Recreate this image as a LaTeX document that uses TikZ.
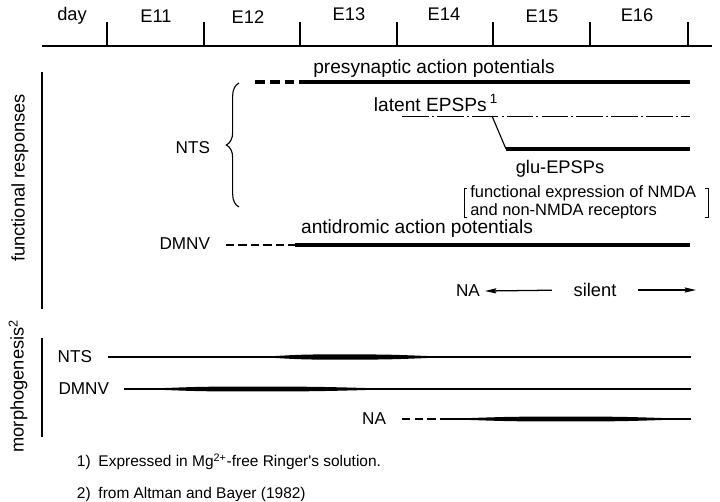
\documentclass[tikz,border=0pt]{standalone}
\usepackage{fontspec}
\setmainfont{Liberation Sans}
\usetikzlibrary{positioning,arrows.meta,decorations.pathreplacing}

% spindle for the morphogenesis bars: start, peak, end, y, half width
\newcommand{\fuse}[5]{%
  \fill (#1,#4) .. controls ({#1+0.55*(#2-#1)},{#4-#5}) .. (#2,{#4-#5})
        .. controls ({#2+0.45*(#3-#2)},{#4-#5}) .. (#3,#4)
        .. controls ({#2+0.45*(#3-#2)},{#4+#5}) .. (#2,{#4+#5})
        .. controls ({#1+0.55*(#2-#1)},{#4+#5}) .. (#1,#4) -- cycle;}

\begin{document}
\begin{tikzpicture}[
    x=0.025cm, y=-0.025cm,
    font=\fontsize{13}{15}\selectfont,
    >={Stealth[length=8pt,width=3.6pt,inset=1pt]},
    axisline/.style={line width=1.8pt},
    daytick/.style={line width=1.1pt},
    sidebar/.style={line width=1.4pt},
    thickline/.style={line width=2.2pt},
    thickdash/.style={line width=2.2pt, dash pattern=on 7pt off 3.5pt},
    latentline/.style={line width=0.7pt, dash pattern=on 19pt off 2.2pt on 1.4pt off 2.2pt},
    morphline/.style={line width=1pt},
    label text/.style={font=\fontsize{12.2}{14}\selectfont},
    phase text/.style={font=\fontsize{13.6}{16}\selectfont},
    smalltext/.style={font=\fontsize{11.7}{13}\selectfont, align=left, inner sep=0pt},
    note text/.style={font=\fontsize{11}{13}\selectfont, anchor=west}
]
\useasboundingbox (0,0) rectangle (720,501);

% time axis
\coordinate (ax-a) at (42,46);
\coordinate (ax-b) at (712,46);
\draw[axisline] (ax-a) -- (ax-b);
\foreach \x in {107,204,300,397,493,590,688}
    \draw[daytick] (\x,46) -- (\x,22);
\foreach \lab/\x/\y in {day/72/16, E11/156/16, E12/248/17, E13/349/14, E14/444/14, E15/542/16, E16/637/15}
    \node (day-\lab) at (\x,\y) {\lab};

% side labels
\draw[sidebar] (42,72) -- (42,309);
\draw[sidebar] (42,338) -- (42,437);
\node[rotate=90] (functional) at (20,178) {functional responses};
\node[rotate=90] (morpho) at (18,386) {morphogenesis\textsuperscript{2}};

% NTS, functional responses
\node[label text, anchor=east] (nts) at (215,148) {NTS};
\draw[line width=0.8pt, decorate, decoration={brace, amplitude=9pt}] (239,207) -- (239,83);

\node[phase text] (presyn) at (434,69) {presynaptic action potentials};
\coordinate (pre-a) at (255,82);
\coordinate (pre-b) at (302,82);
\coordinate (pre-c) at (690,82);
\draw[thickdash] (pre-a) -- (pre-b);
\draw[thickline] (pre-b) -- (pre-c);

\node[phase text] (latent) at (436,103) {latent EPSPs\,\textsuperscript{1}};
\coordinate (lat-a) at (402,116);
\coordinate (lat-b) at (492,116);
\coordinate (lat-c) at (690,116);
\draw[latentline] (lat-a) -- (lat-c);

\coordinate (glu-a) at (506,149);
\coordinate (glu-b) at (690,149);
\draw[line width=0.8pt] (lat-b) -- (glu-a);
\draw[thickline] (glu-a) -- (glu-b);
\node (glu) at (560,169) {glu-EPSPs};
\node[smalltext, anchor=north west] (nmda) at (470,185) {functional expression of NMDA\\and non-NMDA receptors};
\draw[line width=0.6pt] (467,188) -- (464,188) -- (464,217) -- (467,217);
\draw[line width=0.6pt] (705,188) -- (708,188) -- (708,217) -- (705,217);

% DMNV, functional responses
\node[label text, anchor=east] (dmnv) at (215,244) {DMNV};
\node[phase text] (antidrom) at (417,229) {antidromic action potentials};
\coordinate (dm-a) at (226,245);
\coordinate (dm-b) at (295,245);
\coordinate (dm-c) at (690,245);
\draw[line width=2pt, dash pattern=on 6pt off 2.8pt] (dm-a) -- (dm-b);
\draw[thickline] (dm-b) -- (dm-c);

% NA silent
\node[label text] (na) at (468,291) {NA};
\node (silent) at (595,290) {silent};
\coordinate (sil-end) at (696,290);
\draw[->, line width=0.9pt, shorten <=12pt] (silent.west) -- (na.east);
\draw[->, line width=0.9pt, shorten <=12pt] (silent.east) -- (sil-end);

% morphogenesis
\node[label text, anchor=east] (m-nts) at (97,357) {NTS};
\coordinate (mn-a) at (108,357);
\coordinate (mn-b) at (691,357);
\draw[morphline] (mn-a) -- (mn-b);
\fuse{258}{340}{450}{357}{2.6}

\node[label text, anchor=east] (m-dmnv) at (114,389) {DMNV};
\coordinate (md-a) at (124,389);
\coordinate (md-b) at (691,389);
\draw[morphline] (md-a) -- (md-b);
\fuse{140}{250}{400}{389}{2.4}

\node[label text, anchor=east] (m-na) at (391,419) {NA};
\coordinate (ma-a) at (402,419);
\coordinate (ma-b) at (443,419);
\coordinate (ma-c) at (691,419);
\draw[line width=0.8pt, dash pattern=on 6pt off 3pt] (ma-a) -- (ma-b);
\draw[line width=1.3pt] (ma-b) -- (ma-c);
\fuse{443}{565}{691}{419}{2.4}

% footnotes
\node[note text] (note1) at (72,462) {1)\enspace Expressed in Mg\textsuperscript{2+}-free Ringer\textquotesingle s solution.};
\node[note text] (note2) at (72,494) {2)\enspace from Altman and Bayer (1982)};

\end{tikzpicture}
\end{document}
